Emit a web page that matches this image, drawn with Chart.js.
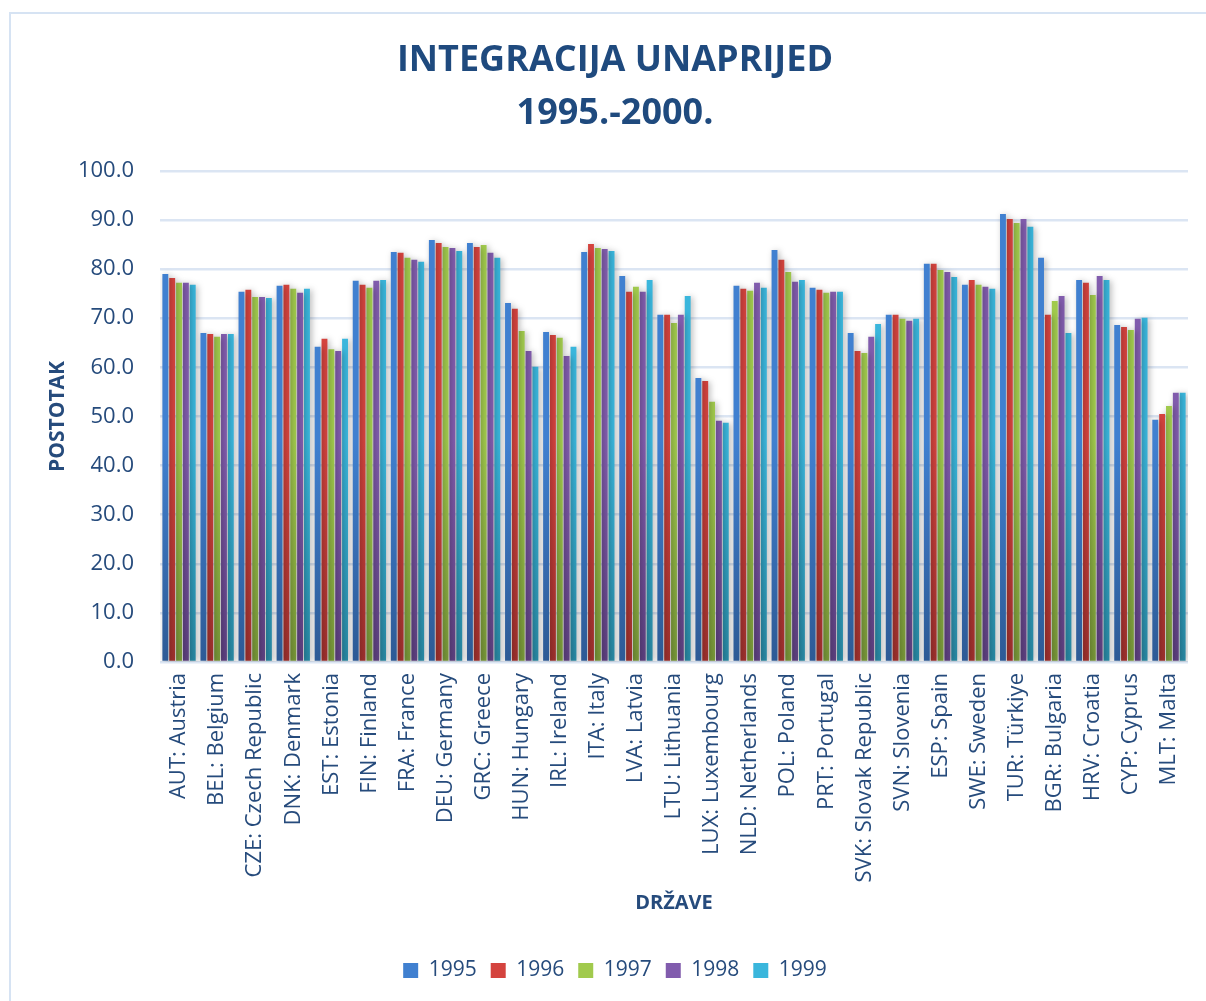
<!DOCTYPE html>
<html>
<head>
<meta charset="utf-8">
<script src="https://cdn.jsdelivr.net/npm/chart.js@4"></script>
<style>
    body { margin: 0; background: #fff; }
    #wrap { position: relative; width: 1206px; height: 1001px; }
    #frame { position: absolute; left: 9px; top: 12px; width: 1300px; height: 1100px; border: 2px solid #d6e3f3; box-sizing: border-box; }
</style>
</head>
<body>
<div id="wrap">
    <div id="frame"></div>
    <canvas id="chart" width="1206" height="1001"></canvas>
</div>
<script>
const countries = [
    "AUT: Austria", "BEL: Belgium", "CZE: Czech Republic", "DNK: Denmark", "EST: Estonia",
    "FIN: Finland", "FRA: France", "DEU: Germany", "GRC: Greece", "HUN: Hungary",
    "IRL: Ireland", "ITA: Italy", "LVA: Latvia", "LTU: Lithuania", "LUX: Luxembourg",
    "NLD: Netherlands", "POL: Poland", "PRT: Portugal", "SVK: Slovak Republic", "SVN: Slovenia",
    "ESP: Spain", "SWE: Sweden", "TUR: Türkiye", "BGR: Bulgaria", "HRV: Croatia",
    "CYP: Cyprus", "MLT: Malta"
]
const years = ["1995", "1996", "1997", "1998", "1999"]

const v1995 = [79.0, 67.0, 75.4, 76.6, 64.2, 77.6, 83.5, 85.9, 85.3, 73.1, 67.2, 83.5, 78.6, 70.7, 57.8, 76.6, 83.9, 76.2, 67.0, 70.7, 81.1, 76.8, 91.2, 82.3, 77.8, 68.6, 49.3]
const v1996 = [78.2, 66.8, 75.8, 76.8, 65.8, 76.8, 83.3, 85.3, 84.5, 71.9, 66.6, 85.1, 75.4, 70.7, 57.2, 76.0, 81.9, 75.8, 63.3, 70.7, 81.1, 77.8, 90.2, 70.7, 77.2, 68.2, 50.5]
const v1997 = [77.2, 66.2, 74.3, 76.0, 63.7, 76.2, 82.3, 84.5, 84.9, 67.4, 66.0, 84.3, 76.4, 69.0, 53.0, 75.6, 79.4, 75.2, 62.9, 69.9, 79.8, 76.8, 89.4, 73.5, 74.7, 67.6, 52.1]
const v1998 = [77.2, 66.8, 74.3, 75.2, 63.3, 77.6, 81.9, 84.3, 83.3, 63.3, 62.3, 84.1, 75.4, 70.7, 49.1, 77.2, 77.4, 75.4, 66.2, 69.5, 79.4, 76.4, 90.2, 74.5, 78.6, 69.9, 54.8]
const v1999 = [76.8, 66.8, 74.1, 76.0, 65.8, 77.8, 81.5, 83.7, 82.3, 60.1, 64.2, 83.7, 77.8, 74.5, 48.7, 76.2, 77.8, 75.4, 68.8, 69.9, 78.4, 76.0, 88.6, 67.0, 77.8, 70.1, 54.8]

// top / bottom shade of each series
const shades = [
    ["#4080d0", "#2d5a95"],
    ["#d4433e", "#9e302d"],
    ["#a1ca4d", "#779638"],
    ["#815cad", "#5d4080"],
    ["#3ab6dc", "#2888a3"]
]

const textColor = "#264b7c"
const fontFamily = "'Open Sans', sans-serif"

function barGradient(i) {
    return (context) => {
        const chart = context.chart
        const area = chart.chartArea
        if (!area) return shades[i][0]
        const g = chart.ctx.createLinearGradient(0, area.top, 0, area.bottom)
        g.addColorStop(0, shades[i][0])
        g.addColorStop(0.55, shades[i][0])
        g.addColorStop(1, shades[i][1])
        return g
    }
}

// soft drop shadow behind the bars
const barShadow = {
    id: 'barShadow',
    beforeDatasetsDraw(chart) {
        const ctx = chart.ctx
        ctx.save()
        ctx.shadowColor = 'rgba(0,0,0,0.28)'
        ctx.shadowBlur = 6
        ctx.shadowOffsetX = 2
        ctx.shadowOffsetY = 1
    },
    afterDatasetsDraw(chart) {
        chart.ctx.restore()
    }
}

const series = [v1995, v1996, v1997, v1998, v1999]

new Chart(document.getElementById('chart').getContext('2d'), {
    type: 'bar',
    data: {
        labels: countries,
        datasets: series.map((vals, i) => ({
            label: years[i],
            data: vals,
            backgroundColor: barGradient(i),
            borderWidth: 0,
            barPercentage: 0.86,
            categoryPercentage: 0.9
        }))
    },
    plugins: [barShadow],
    options: {
        responsive: false,
        animation: false,
        layout: { padding: { left: 42, right: 18, top: 0, bottom: 10 } },
        plugins: {
            title: {
                display: true,
                text: ["INTEGRACIJA UNAPRIJED", "1995.-2000."],
                color: "#1f4a7e",
                font: { family: fontFamily, size: 36, weight: 'bold', lineHeight: 1.47 },
                padding: { top: 34, bottom: 31 }
            },
            legend: {
                position: 'bottom',
                labels: {
                    color: textColor,
                    font: { family: fontFamily, size: 21 },
                    boxWidth: 15,
                    boxHeight: 15,
                    padding: 14,
                    generateLabels: (chart) => chart.data.datasets.map((ds, i) => ({
                        text: ds.label,
                        fillStyle: shades[i][0],
                        strokeStyle: shades[i][0],
                        lineWidth: 0,
                        fontColor: textColor,
                        datasetIndex: i
                    }))
                }
            },
            tooltip: { enabled: false }
        },
        scales: {
            x: {
                grid: { display: false },
                border: { display: false },
                ticks: {
                    color: textColor,
                    font: { family: fontFamily, size: 22 },
                    minRotation: 90,
                    maxRotation: 90,
                    autoSkip: false,
                    padding: 3
                },
                title: {
                    display: true,
                    text: "DRŽAVE",
                    color: textColor,
                    font: { family: fontFamily, size: 20, weight: 'bold' },
                    padding: { top: 8, bottom: 31 }
                },
                afterFit: (scale) => { scale.height = 284 }
            },
            y: {
                min: 0,
                max: 100,
                grid: { color: "#dbe5f3", lineWidth: 2.5, drawTicks: false },
                border: { display: false },
                ticks: {
                    stepSize: 10,
                    color: textColor,
                    font: { family: fontFamily, size: 22 },
                    padding: 26,
                    callback: (v) => v.toFixed(1)
                },
                title: {
                    display: true,
                    text: "POSTOTAK",
                    color: textColor,
                    font: { family: fontFamily, size: 21, weight: 'bold' },
                    padding: { top: 3, bottom: 0 }
                },
                afterFit: (scale) => { scale.width = 118 }
            }
        }
    }
})
</script>
</body>
</html>
